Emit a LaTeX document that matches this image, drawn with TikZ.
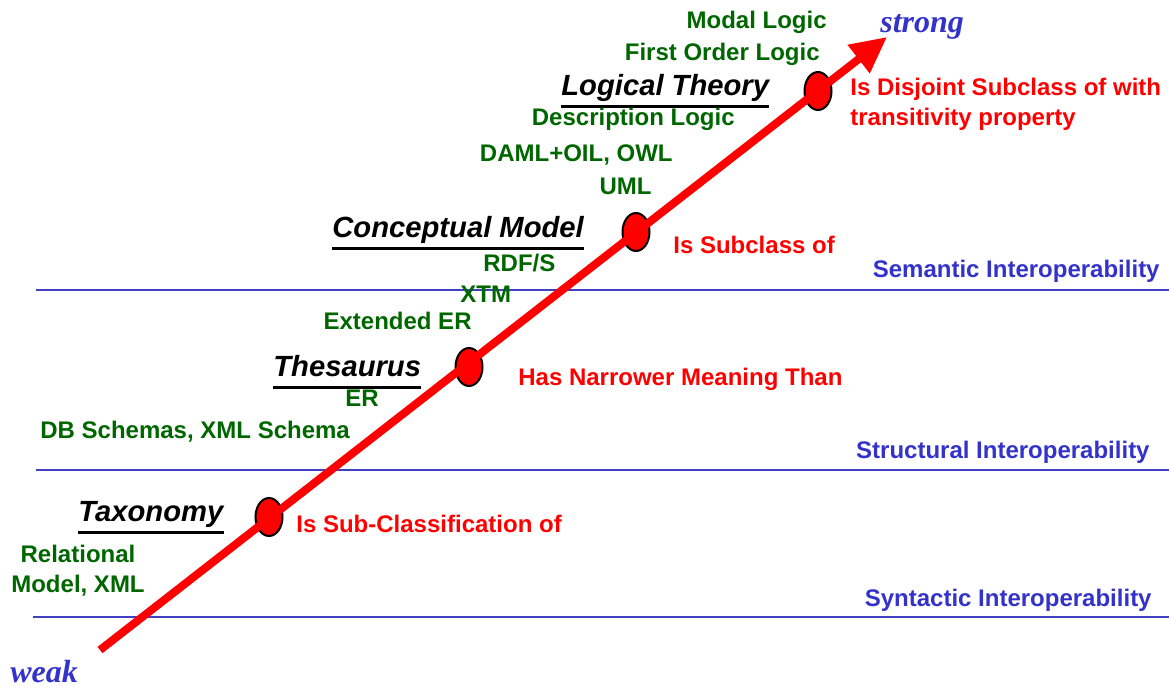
\documentclass[tikz,border=0pt]{standalone}
\usepackage{fontspec}
\setmainfont{Liberation Sans}
\newfontfamily\serifbi{Liberation Serif}
\usetikzlibrary{arrows.meta,shapes.geometric}
\definecolor{lvgreen}{RGB}{0,102,0}
\definecolor{lvred}{RGB}{255,0,0}
\definecolor{lvblue}{RGB}{51,51,204}
\definecolor{lvline}{RGB}{64,64,192}
\tikzset{
  tech/.style={inner sep=0pt, text=lvgreen, font=\fontsize{12}{14}\selectfont\bfseries},
  rel/.style={inner sep=0pt, text=lvred, font=\fontsize{12}{14}\selectfont\bfseries},
  level/.style={inner sep=0pt, text=lvblue, font=\fontsize{12}{14}\selectfont\bfseries},
  head/.style={inner sep=0pt, text=black, font=\fontsize{14.6}{17}\selectfont\bfseries\itshape},
  ends/.style={inner sep=0pt, text=lvblue, font=\serifbi\fontsize{16}{18}\selectfont\bfseries\itshape},
  sep/.style={draw=lvline, line width=1pt},
  ul/.style={draw=black, line width=1.5pt},
  dot/.style={ellipse, draw=black, fill=lvred, line width=1pt, minimum width=13.5pt, minimum height=19pt, inner sep=0pt},
  axis/.style={draw=lvred, line width=4pt, -{Triangle[length=18pt,width=17pt]}},
}
\begin{document}
\begin{tikzpicture}[x=0.5pt,y=-0.5pt]
\useasboundingbox (0,0) rectangle (1169,690);

% separator lines
\coordinate (s1a) at (36,290); \coordinate (s1b) at (1169,290);
\coordinate (s2a) at (36,470); \coordinate (s2b) at (1169,470);
\coordinate (s3a) at (33,617); \coordinate (s3b) at (1169,617);
\draw[sep] (s1a) -- (s1b);
\draw[sep] (s2a) -- (s2b);
\draw[sep] (s3a) -- (s3b);

% level labels
\node[level, anchor=base east] (sem) at (1160,278) {Semantic Interoperability};
\node[level, anchor=base east] (str) at (1150,458) {Structural Interoperability};
\node[level, anchor=base east] (syn) at (1152,606) {Syntactic Interoperability};

% points on the axis
\node[dot] (p1) at (269,517) {};
\node[dot] (p2) at (469,367) {};
\node[dot] (p3) at (636,232) {};
\node[dot] (p4) at (818,91) {};

% axis
\coordinate (tail) at (100,650);
\coordinate (tip) at (887,37);
\draw[axis] (tail) -- (tip);

% ends
\node[ends, anchor=base west] (strong) at (880,33) {strong};
\node[ends, anchor=base west] (weak) at (10,682) {weak};

% headings
\node[head, anchor=base west] (h4) at (561,96) {Logical Theory};
\node[head, anchor=base west] (h3) at (332,238) {Conceptual Model};
\node[head, anchor=base west] (h2) at (273,376) {Thesaurus};
\node[head, anchor=base west] (h1) at (78,521) {Taxonomy};
\foreach \h in {h1,h2,h3,h4}{
  \draw[ul] ([yshift=-5.5pt]\h.base west) -- ([yshift=-5.5pt]\h.base east);
}

% relations
\node[rel, anchor=base west, align=left] (r4) at (850,126) {Is Disjoint Subclass of with\\[1pt]transitivity property};
\node[rel, anchor=base west] (r3) at (673,254) {Is Subclass of};
\node[rel, anchor=base west] (r2) at (518,386) {Has Narrower Meaning Than};
\node[rel, anchor=base west] (r1) at (296,532) {Is Sub-Classification of};

% technologies
\node[tech, anchor=base east] (t1) at (827,29) {Modal Logic};
\node[tech, anchor=base east] (t2) at (820,61) {First Order Logic};
\node[tech, anchor=base east] (t3) at (735,126) {Description Logic};
\node[tech, anchor=base east] (t4) at (673,162) {DAML+OIL, OWL};
\node[tech, anchor=base east] (t5) at (652,195) {UML};
\node[tech, anchor=base west] (t6) at (483,271) {RDF/S};
\node[tech, anchor=base west] (t7) at (460,302) {XTM};
\node[tech, anchor=base east] (t8) at (472,329) {Extended ER};
\node[tech, anchor=base west] (t9) at (345,407) {ER};
\node[tech, anchor=base west] (t10) at (40,438) {DB Schemas, XML Schema};
\node[tech, anchor=base, align=center] (t11) at (78,592) {Relational\\[1pt]Model, XML};
\end{tikzpicture}
\end{document}
